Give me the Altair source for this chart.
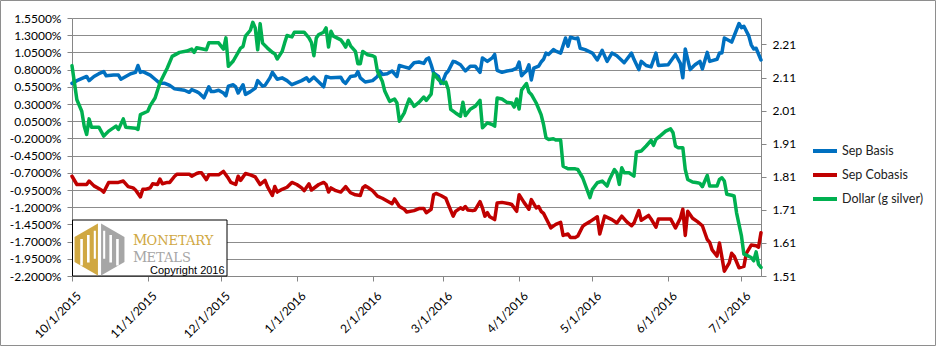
import altair as alt
import pandas as pd

# ---------------- data ----------------
START = pd.Timestamp("2015-10-01")   # day offsets below are days since this date

basis_day = [0, 2, 6, 7, 9, 11, 13, 14, 17, 19, 20, 22, 24, 26, 27, 28, 29, 32, 34, 36,
             38, 40, 42, 44, 46, 48, 49, 51, 52, 54, 56, 57, 58, 60, 62, 63, 64, 66, 67, 68,
             70, 71, 73, 75, 76, 78, 79, 81, 82, 84, 86, 88, 90, 92, 94, 96, 97, 99, 101, 103,
             104, 106, 110, 111, 112, 114, 116, 117, 118, 120, 123, 125, 126, 127, 129, 131, 133, 134, 136, 138,
             140, 142, 144, 145, 146, 147, 148, 150, 151, 152, 153, 154, 156, 157, 159, 161, 163, 165, 167, 168,
             170, 172, 173, 174, 176, 178, 180, 182, 183, 184, 185, 186, 187, 188, 189, 191, 192, 193, 194, 195,
             197, 198, 200, 202, 203, 204, 206, 207, 208, 210, 213, 215, 217, 219, 221, 223, 226, 229, 230, 232,
             233, 235, 237, 239, 240, 244, 247, 249, 250, 251, 253, 255, 257, 258, 260, 261, 264, 265, 266, 267,
             270, 273, 274, 275, 277, 278, 279, 280, 282]
basis_val = [0.60, 0.64, 0.70, 0.64, 0.70, 0.74, 0.77, 0.71, 0.72, 0.72, 0.66, 0.70, 0.74, 0.76, 0.86, 0.76, 0.77, 0.72, 0.66, 0.60,
             0.60, 0.57, 0.52, 0.51, 0.50, 0.47, 0.51, 0.48, 0.46, 0.39, 0.55, 0.48, 0.48, 0.50, 0.46, 0.42, 0.56, 0.58, 0.55, 0.46,
             0.58, 0.44, 0.48, 0.53, 0.64, 0.56, 0.57, 0.68, 0.76, 0.66, 0.68, 0.64, 0.58, 0.61, 0.64, 0.68, 0.63, 0.69, 0.62, 0.55,
             0.70, 0.68, 0.69, 0.63, 0.60, 0.70, 0.71, 0.77, 0.68, 0.62, 0.64, 0.70, 0.78, 0.73, 0.74, 0.78, 0.70, 0.86, 0.84, 0.82,
             0.90, 0.91, 0.89, 0.95, 0.97, 0.87, 0.75, 0.70, 0.60, 0.65, 0.74, 0.78, 0.92, 0.91, 0.87, 0.78, 0.85, 0.85, 0.76, 0.97,
             0.92, 0.97, 1.02, 0.79, 0.76, 0.78, 0.79, 0.82, 0.91, 0.71, 0.75, 0.78, 0.87, 0.65, 0.82, 0.85, 0.91, 0.95, 1.04, 1.02,
             1.09, 1.07, 1.04, 1.26, 1.14, 1.27, 1.25, 1.26, 1.11, 1.09, 1.04, 0.94, 1.08, 0.92, 1.04, 1.00, 0.90, 1.04, 0.95, 0.80,
             0.92, 0.86, 0.84, 1.04, 0.86, 0.87, 1.02, 0.89, 0.68, 1.10, 0.80, 0.87, 0.92, 0.81, 1.05, 0.92, 0.95, 1.04, 1.04, 1.26,
             1.20, 1.47, 1.41, 1.43, 1.29, 1.16, 1.10, 1.11, 0.94]

cobasis_day = [0, 2, 6, 7, 9, 12, 13, 15, 17, 19, 21, 23, 25, 26, 28, 29, 30, 32, 33, 35,
               36, 37, 39, 40, 42, 43, 45, 48, 49, 51, 52, 53, 55, 56, 58, 60, 62, 64, 65, 67,
               68, 69, 71, 73, 75, 77, 79, 80, 82, 83, 84, 86, 88, 90, 92, 94, 95, 97, 98, 101,
               103, 104, 105, 106, 108, 110, 112, 114, 116, 118, 119, 120, 121, 123, 125, 127, 129, 131, 132, 134,
               136, 137, 140, 142, 144, 145, 147, 148, 149, 151, 153, 154, 156, 157, 159, 160, 161, 162, 164, 165,
               167, 168, 169, 170, 171, 173, 174, 176, 179, 180, 182, 183, 185, 187, 188, 190, 191, 192, 193, 195,
               196, 198, 200, 201, 203, 204, 206, 207, 209, 210, 212, 215, 216, 218, 221, 223, 225, 227, 229, 230,
               232, 233, 236, 237, 239, 240, 243, 245, 247, 249, 250, 251, 252, 254, 256, 258, 260, 261, 262, 264,
               265, 267, 269, 270, 271, 273, 275, 276, 278, 280, 281, 282]
cobasis_val = [-0.75, -0.87, -0.87, -0.82, -0.89, -0.95, -0.98, -0.84, -0.84, -0.84, -0.82, -0.90, -0.92, -0.95, -1.05, -0.94, -0.94, -0.92, -0.86, -0.87,
               -0.79, -0.86, -0.84, -0.84, -0.75, -0.72, -0.72, -0.72, -0.75, -0.71, -0.70, -0.70, -0.80, -0.73, -0.73, -0.73, -0.68, -0.78, -0.84, -0.87,
               -0.75, -0.81, -0.71, -0.73, -0.76, -0.87, -0.81, -0.90, -1.03, -0.90, -0.98, -0.94, -0.91, -0.84, -0.87, -0.92, -0.96, -0.86, -0.95, -0.87,
               -0.84, -0.87, -0.98, -0.92, -0.96, -0.98, -0.90, -0.99, -1.02, -1.03, -0.92, -0.89, -0.91, -0.96, -1.04, -1.07, -1.11, -1.15, -1.08, -1.19,
               -1.23, -1.27, -1.25, -1.22, -1.22, -1.28, -1.23, -1.02, -1.00, -1.03, -1.07, -1.16, -1.33, -1.26, -1.21, -1.23, -1.19, -1.24, -1.25, -1.24,
               -1.12, -1.21, -1.33, -1.28, -1.34, -1.38, -1.14, -1.13, -1.15, -1.16, -1.26, -1.02, -1.13, -1.23, -1.09, -1.21, -1.19, -1.26, -1.29, -1.43,
               -1.50, -1.45, -1.42, -1.61, -1.59, -1.64, -1.64, -1.62, -1.48, -1.45, -1.41, -1.34, -1.59, -1.33, -1.38, -1.43, -1.33, -1.41, -1.47, -1.43,
               -1.25, -1.39, -1.32, -1.37, -1.49, -1.37, -1.37, -1.37, -1.50, -1.36, -1.23, -1.61, -1.26, -1.36, -1.41, -1.47, -1.67, -1.71, -1.82, -1.91,
               -1.72, -2.13, -2.01, -1.87, -1.91, -2.08, -2.06, -1.87, -1.75, -1.76, -1.78, -1.57]

dollar_day = [0, 2, 4, 5, 6, 7, 8, 11, 13, 15, 18, 19, 21, 22, 26, 27, 28, 31, 32, 34,
              36, 39, 41, 44, 47, 49, 50, 51, 55, 56, 60, 62, 63, 64, 66, 69, 70, 71, 73, 74,
              75, 76, 77, 78, 80, 82, 83, 84, 86, 87, 88, 90, 91, 93, 95, 97, 98, 99, 100, 101,
              103, 104, 105, 106, 107, 110, 111, 112, 113, 114, 116, 117, 118, 119, 121, 123, 124, 125, 127, 128,
              130, 132, 133, 134, 136, 137, 138, 139, 140, 142, 144, 145, 147, 148, 150, 152, 153, 154, 155, 157,
              159, 160, 161, 163, 165, 167, 168, 170, 172, 173, 174, 176, 178, 180, 181, 182, 183, 184, 185, 186,
              187, 188, 190, 192, 193, 194, 195, 197, 198, 200, 201, 203, 206, 207, 209, 212, 213, 215, 217, 219,
              220, 222, 223, 224, 225, 226, 228, 230, 231, 233, 235, 237, 238, 239, 241, 243, 245, 246, 247, 248,
              250, 251, 252, 254, 256, 257, 258, 260, 261, 262, 264, 265, 266, 267, 268, 270, 271, 272, 274, 275,
              276, 278, 279, 280, 281, 282]
dollar_val = [2.146, 2.043, 2.008, 1.963, 1.938, 1.985, 1.960, 1.960, 1.933, 1.948, 1.963, 1.953, 1.985, 1.960, 1.957, 1.953, 1.998, 2.008, 2.025, 2.048,
              2.094, 2.139, 2.174, 2.186, 2.190, 2.196, 2.186, 2.200, 2.194, 2.215, 2.215, 2.196, 2.230, 2.144, 2.160, 2.199, 2.204, 2.235, 2.253, 2.277,
              2.260, 2.194, 2.273, 2.214, 2.199, 2.186, 2.182, 2.166, 2.189, 2.214, 2.237, 2.233, 2.247, 2.247, 2.247, 2.230, 2.216, 2.176, 2.230, 2.240,
              2.247, 2.260, 2.202, 2.250, 2.235, 2.224, 2.214, 2.202, 2.222, 2.206, 2.189, 2.152, 2.152, 2.189, 2.179, 2.176, 2.172, 2.129, 2.099, 2.069,
              2.038, 2.045, 2.033, 1.978, 2.003, 2.025, 2.045, 2.035, 2.023, 2.035, 2.051, 2.041, 2.060, 2.122, 2.104, 2.092, 2.096, 2.074, 2.014, 2.003,
              1.993, 2.035, 1.995, 2.014, 2.023, 2.041, 1.958, 1.973, 1.968, 1.963, 2.048, 2.045, 2.035, 2.033, 2.021, 2.045, 2.015, 2.072, 2.082, 2.092,
              2.066, 2.059, 2.033, 1.998, 1.968, 1.928, 1.923, 1.925, 1.921, 1.921, 1.842, 1.834, 1.834, 1.832, 1.807, 1.747, 1.772, 1.792, 1.797, 1.782,
              1.802, 1.832, 1.822, 1.787, 1.837, 1.822, 1.822, 1.812, 1.885, 1.888, 1.903, 1.920, 1.905, 1.923, 1.935, 1.948, 1.955, 1.943, 1.903, 1.898,
              1.898, 1.832, 1.802, 1.794, 1.792, 1.790, 1.780, 1.814, 1.782, 1.782, 1.782, 1.802, 1.807, 1.797, 1.757, 1.754, 1.752, 1.701, 1.631, 1.576,
              1.573, 1.566, 1.556, 1.583, 1.545, 1.536]

series_names = ["Sep Basis", "Sep Cobasis", "Dollar (g silver)"]
series_colors = ["#0070C0", "#C00000", "#00B050"]

left_ticks = [1.55, 1.30, 1.05, 0.80, 0.55, 0.30, 0.05, -0.20, -0.45, -0.70,
              -0.95, -1.20, -1.45, -1.70, -1.95, -2.20]
right_ticks = [2.21, 2.11, 2.01, 1.91, 1.81, 1.71, 1.61, 1.51]
month_ticks = [(2015, 10), (2015, 11), (2015, 12), (2016, 1), (2016, 2),
               (2016, 3), (2016, 4), (2016, 5), (2016, 6), (2016, 7)]

logo_word1 = ["M", "ONETARY"]
logo_word2 = ["M", "ETALS"]
copyright_text = "Copyright 2016"


def series_frame(days, values, name):
    return pd.DataFrame({
        "date": [START + pd.Timedelta(days=d) for d in days],
        "value": values,
        "series": name,
    })


left_df = pd.concat([series_frame(basis_day, basis_val, series_names[0]),
                     series_frame(cobasis_day, cobasis_val, series_names[1])],
                    ignore_index=True)
right_df = series_frame(dollar_day, dollar_val, series_names[2])

# ---------------- styling ----------------
FONT = "Lato"
AXIS_GRAY = "#868686"
GOLD = "#D0A842"
LOGO_GRAY = "#A6A6A6"

x_enc = alt.X(
    "date:T",
    scale=alt.Scale(domain=[alt.DateTime(year=2015, month=10, date=1),
                            alt.DateTime(year=2016, month=7, date=9)]),
    axis=alt.Axis(
        values=[alt.DateTime(year=y, month=m, date=1) for y, m in month_ticks],
        format="%-m/%-d/%Y", labelAngle=315, labelAlign="right", labelBaseline="top",
        labelPadding=9, labelOffset=3, labelFlush=False, labelOverlap=False, grid=False,
        tickSize=5, tickColor=AXIS_GRAY, domainColor=AXIS_GRAY,
        labelFont=FONT, labelFontSize=12, labelColor="#000000", title=None),
)

color_enc = alt.Color(
    "series:N",
    scale=alt.Scale(domain=series_names, range=series_colors),
    legend=alt.Legend(title=None, orient="none", legendX=739, legendY=119,
                      symbolType="stroke", symbolStrokeWidth=4, symbolSize=576,
                      labelFont=FONT, labelFontSize=12.5, labelColor="#222222",
                      rowPadding=2, labelOffset=3, padding=0, direction="vertical"),
)

left_lines = alt.Chart(left_df).mark_line(strokeWidth=3.5, strokeJoin="round", strokeCap="round").encode(
    x=x_enc,
    y=alt.Y("value:Q",
            scale=alt.Scale(domain=[-2.2, 1.55], nice=False, zero=False),
            axis=alt.Axis(orient="left", values=left_ticks,
                          labelExpr="(datum.value < 0 ? '-' : '') + format(abs(datum.value), '.4f') + '%'",
                          grid=True, gridColor="#8C8C8C", gridWidth=1,
                          tickSize=5, tickColor=AXIS_GRAY, domainColor=AXIS_GRAY,
                          labelPadding=6, labelFont=FONT, labelFontSize=12, labelColor="#000000",
                          labelFlush=False, labelOverlap=False, title=None)),
    color=color_enc,
    detail="series:N",
)

right_line = alt.Chart(right_df).mark_line(strokeWidth=3.5, strokeJoin="round", strokeCap="round").encode(
    x=x_enc,
    y=alt.Y("value:Q",
            scale=alt.Scale(domain=[1.51, 2.29], nice=False, zero=False),
            axis=alt.Axis(orient="right", values=right_ticks, format=".2f",
                          grid=False, tickSize=5, tickColor=AXIS_GRAY, domainColor=AXIS_GRAY,
                          labelPadding=6, labelFont=FONT, labelFontSize=12, labelColor="#000000",
                          labelFlush=False, labelOverlap=False, title=None)),
    color=color_enc,
)

one = pd.DataFrame({"k": [0]})

# outer chart border
frame = alt.Chart(one).mark_rect(fillOpacity=0, stroke="#8E8E8E", strokeWidth=1).encode(
    x=alt.value(-71.5), x2=alt.value(863.5), y=alt.value(-17.5), y2=alt.value(327.5))

# copyright / logo box
logo_box = alt.Chart(one).mark_rect(fill="white", stroke="black", strokeWidth=1).encode(
    x=alt.value(0.5), x2=alt.value(155), y=alt.value(202), y2=alt.value(258))

gold_half = "M -0.06 -1 L -0.96 -0.48 L -0.96 0.48 L -0.06 1 Z"
gray_half = "M 0.06 -1 L 0.96 -0.48 L 0.96 0.48 L 0.06 1 Z"
slits = ("M -0.74 -0.40 L -0.64 -0.40 L -0.64 0.62 L -0.74 0.62 Z "
         "M -0.48 -0.56 L -0.38 -0.56 L -0.38 0.50 L -0.48 0.50 Z "
         "M -0.22 -0.72 L -0.14 -0.72 L -0.14 0.36 L -0.22 0.36 Z "
         "M 0.64 -0.40 L 0.74 -0.40 L 0.74 0.62 L 0.64 0.62 Z "
         "M 0.38 -0.56 L 0.48 -0.56 L 0.48 0.50 L 0.38 0.50 Z "
         "M 0.14 -0.72 L 0.22 -0.72 L 0.22 0.36 L 0.14 0.36 Z")


def logo_shape(path, col):
    return alt.Chart(one).mark_point(shape=path, filled=True, color=col, opacity=1,
                                     size=2704, strokeWidth=0).encode(
        x=alt.value(27.5), y=alt.value(231.5))


def label(txt, x, y, size, col, font):
    return alt.Chart(one).mark_text(text=txt, align="left", baseline="alphabetic",
                                    font=font, fontSize=size, color=col).encode(
        x=alt.value(x), y=alt.value(y))


logo_layers = [
    logo_box,
    logo_shape(gold_half, GOLD),
    logo_shape(gray_half, LOGO_GRAY),
    logo_shape(slits, "white"),
    label(logo_word1[0], 61, 227, 14, GOLD, "DejaVu Serif"),
    label(logo_word1[1], 74.5, 227, 13, GOLD, "DejaVu Serif"),
    label(logo_word2[0], 61, 243.5, 14, LOGO_GRAY, "DejaVu Serif"),
    label(logo_word2[1], 74.5, 243.5, 13, LOGO_GRAY, "DejaVu Serif"),
    label(copyright_text, 78, 256, 11, "#000000", "Liberation Sans"),
]

chart = alt.layer(
    left_lines, right_line, frame, *logo_layers
).resolve_scale(
    y="independent"
).properties(
    width=689, height=258, padding=0, background="white"
).configure_view(stroke=None)

chart.save("out.html", embed_options={"renderer": "svg", "actions": False})
